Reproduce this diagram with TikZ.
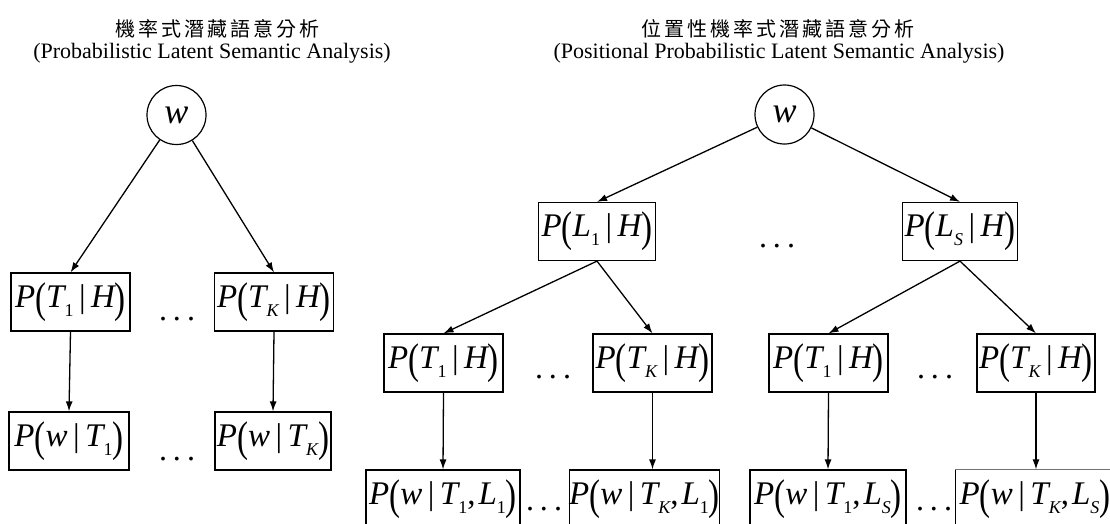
\documentclass[tikz,border=0pt]{standalone}
\usepackage{fontspec}
\setmainfont{Liberation Serif}
\newfontfamily\cjk[LetterSpace=15]{Noto Sans CJK TC}
\usepackage{graphicx}
\usetikzlibrary{arrows.meta}
\newcommand\lp{\raisebox{-5pt}{\scalebox{1}[1.3]{(}}}
\newcommand\rp{\raisebox{-5pt}{\scalebox{1}[1.3]{)}}}
\newcommand\sub[1]{\raisebox{-9pt}{\fontsize{18}{18}\selectfont #1}}
\newcommand\mybar{\kern5.5pt|\kern5.5pt}
\newcommand\prob[1]{{\itshape P}\lp #1\rp}
\newcommand\mydots{.\kern6pt.\kern6pt.}
\begin{document}
\begin{tikzpicture}[x=1pt,y=-1pt,
  box/.style={draw, line width=1.2pt, inner sep=0pt, minimum height=58pt, font=\fontsize{33}{38}\selectfont},
  circ/.style={draw, circle, line width=1.2pt, minimum size=59pt, inner sep=0pt, font=\fontsize{36}{38}\selectfont\itshape},
  arr/.style={line width=1.3pt, -{Latex[length=10pt,width=7pt]}},
  dots/.style={font=\fontsize{32}{36}\selectfont, anchor=base, inner sep=0pt},
  title/.style={font=\fontsize{22}{26}\selectfont, anchor=base},
  ctitle/.style={font=\cjk\fontsize{20}{22}\selectfont, anchor=base}]
\path[use as bounding box] (0,0) rectangle (1110,523);
\clip (0,0) rectangle (1110,523);
% titles
\node[ctitle] (t1c) at (217,36) {機率式潛藏語意分析};
\node[title] (t1e) at (212,58) {(Probabilistic Latent Semantic Analysis)};
\node[ctitle] (t2c) at (778,36) {位置性機率式潛藏語意分析};
\node[title] (t2e) at (779,58) {(Positional Probabilistic Latent Semantic Analysis)};
% left tree
\node[circ] (lw) at (176.5,115) {w};
\node[box, minimum width=119pt] (lT1) at (70.5,302) {\prob{{\itshape T}\sub{1}\mybar{\itshape H}}};
\node[box, minimum width=119pt] (lTK) at (274,302) {\prob{{\itshape T}\sub{\itshape K}\mybar{\itshape H}}};
\node[box, minimum width=120pt] (lw1) at (69,441) {\prob{{\itshape w}\mybar{\itshape T}\sub{1}}};
\node[box, minimum width=116pt] (lwK) at (273,441) {\prob{{\itshape w}\mybar{\itshape T}\sub{\itshape K}}};
\node[dots] (ld1) at (177,320) {\mydots};
\node[dots] (ld2) at (177,460) {\mydots};
\draw[arr] (lw) -- (lT1.north);
\draw[arr] (lw) -- (lTK.north);
\draw[arr] (lT1.south) -- (lw1.north);
\draw[arr] (lTK.south) -- (lwK.north);
% right tree
\node[circ] (rw) at (784.5,114.5) {w};
\node[box, minimum width=117pt] (L1) at (597,231.5) {\prob{{\itshape L}\sub{1}\mybar{\itshape H}}};
\node[box, minimum width=115pt] (LS) at (960,231.5) {\prob{{\itshape L}\sub{\itshape S}\mybar{\itshape H}}};
\node[dots] (rd0) at (777,247) {\mydots};
\node[box, minimum width=119pt] (T1a) at (443.5,363) {\prob{{\itshape T}\sub{1}\mybar{\itshape H}}};
\node[box, minimum width=119pt] (TKa) at (652.5,363) {\prob{{\itshape T}\sub{\itshape K}\mybar{\itshape H}}};
\node[box, minimum width=119pt] (T1b) at (828.5,363) {\prob{{\itshape T}\sub{1}\mybar{\itshape H}}};
\node[box, minimum width=118pt] (TKb) at (1036,363) {\prob{{\itshape T}\sub{\itshape K}\mybar{\itshape H}}};
\node[dots] (rd1) at (553,378) {\mydots};
\node[dots] (rd2) at (935,378) {\mydots};
\node[box, minimum width=154pt] (b1) at (443,499) {\prob{{\itshape w}\mybar{\itshape T}\sub{1},\kern3pt{\itshape L}\sub{1}}};
\node[box, minimum width=147pt] (b2) at (644.5,499) {\prob{{\itshape w}\mybar{\itshape T}\sub{\itshape K},\kern3pt{\itshape L}\sub{1}}};
\node[box, minimum width=156pt] (b3) at (828,499) {\prob{{\itshape w}\mybar{\itshape T}\sub{1},\kern3pt{\itshape L}\sub{\itshape S}}};
\node[box, draw=none, minimum width=158pt] (b4) at (1035,499) {\prob{{\itshape w}\mybar{\itshape T}\sub{\itshape K},\kern3pt{\itshape L}\sub{\itshape S}}};
\draw[line width=1.2pt] (b4.south west) -- (b4.north west);
\draw[line width=1.2pt, black!55] (b4.north west) -- ++(200,0);
\node[dots] (rd3) at (544,510) {\mydots};
\node[dots] (rd4) at (934,510) {\mydots};
\draw[arr] (rw) -- (L1.north);
\draw[arr] (rw) -- (LS.north);
\draw[arr] (L1.south) -- (T1a.north);
\draw[arr] (L1.south) -- (TKa.north);
\draw[arr] (LS.south) -- (T1b.north);
\draw[arr] (LS.south) -- (TKb.north);
\draw[arr] (T1a.south) -- (b1.north);
\draw[arr] (TKa.south) -- (TKa.south |- b2.north);
\draw[arr] (T1b.south) -- (b3.north);
\draw[arr] (TKb.south) -- (TKb.south |- b4.north);
\end{tikzpicture}
\end{document}
